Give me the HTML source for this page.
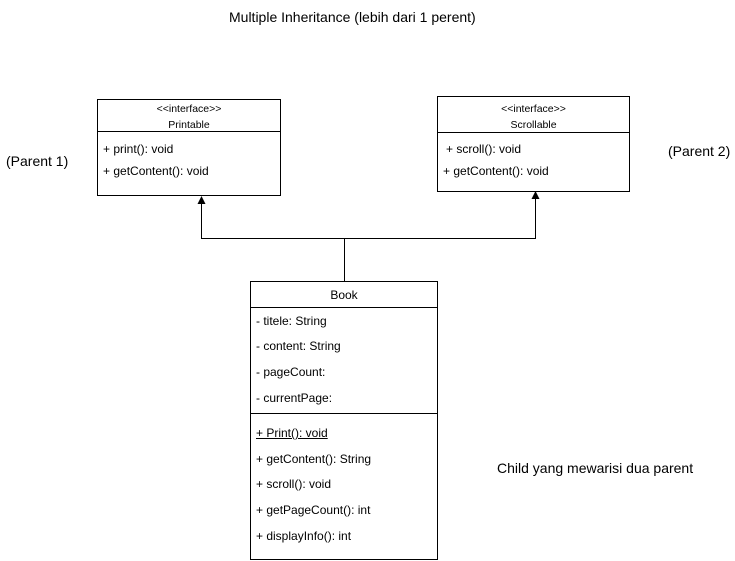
<!DOCTYPE html>
<html><head><style>
body{margin:0;width:735px;height:561px;background:#fff;font-family:"Liberation Sans",sans-serif;color:#000;position:relative;overflow:hidden}
.t{position:absolute;font-size:12px;white-space:nowrap;line-height:14px}
.s{font-size:10.5px}
.c{text-align:center}
.b{font-size:14px;line-height:16px}
</style></head><body>
<svg width="735" height="561" style="position:absolute;left:0;top:0">
<g fill="none" stroke="#000" stroke-width="1">
<rect x="97.5" y="99.5" width="183" height="96"/>
<line x1="97" y1="131.5" x2="281" y2="131.5"/>
<rect x="437.5" y="96.5" width="192" height="95"/>
<line x1="437" y1="132.5" x2="630" y2="132.5"/>
<rect x="250.5" y="281.5" width="187" height="278"/>
<line x1="250" y1="307.5" x2="438" y2="307.5"/>
<line x1="250" y1="413.5" x2="438" y2="413.5"/>
<polyline points="344.5,281 344.5,238.5 201.5,238.5 201.5,203"/>
<polyline points="344.5,238.5 535.5,238.5 535.5,198"/>
</g>
<polygon points="201.5,196 197.5,204 205.5,204" fill="#000"/>
<polygon points="535.5,191 531.5,199 539.5,199" fill="#000"/>
</svg>
<div class="t b" style="left:229px;top:9px">Multiple Inheritance (lebih dari 1 perent)</div>
<div class="t b" style="left:6px;top:153px">(Parent 1)</div>
<div class="t b" style="left:668px;top:143px">(Parent 2)</div>
<div class="t b" style="left:497px;top:460px">Child yang mewarisi dua parent</div>
<div class="t s c" style="left:97px;width:184px;top:102px">&lt;&lt;interface&gt;&gt;</div>
<div class="t s c" style="left:97px;width:184px;top:118px">Printable</div>
<div class="t" style="left:103px;top:142px">+ print(): void</div>
<div class="t" style="left:103px;top:164px">+ getContent(): void</div>
<div class="t s c" style="left:437px;width:193px;top:102px">&lt;&lt;interface&gt;&gt;</div>
<div class="t s c" style="left:437px;width:193px;top:118px">Scrollable</div>
<div class="t" style="left:446px;top:142px">+ scroll(): void</div>
<div class="t" style="left:443px;top:164px">+ getContent(): void</div>
<div class="t c" style="left:250px;width:188px;top:288px">Book</div>
<div class="t" style="left:256px;top:314px">- titele: String</div>
<div class="t" style="left:256px;top:339px">- content: String</div>
<div class="t" style="left:256px;top:365px">- pageCount:</div>
<div class="t" style="left:256px;top:391px">- currentPage:</div>
<div class="t" style="left:256px;top:426px;text-decoration:underline">+ Print(): void</div>
<div class="t" style="left:256px;top:452px">+ getContent(): String</div>
<div class="t" style="left:256px;top:477px">+ scroll(): void</div>
<div class="t" style="left:256px;top:503px">+ getPageCount(): int</div>
<div class="t" style="left:256px;top:529px">+ displayInfo(): int</div>
</body></html>
